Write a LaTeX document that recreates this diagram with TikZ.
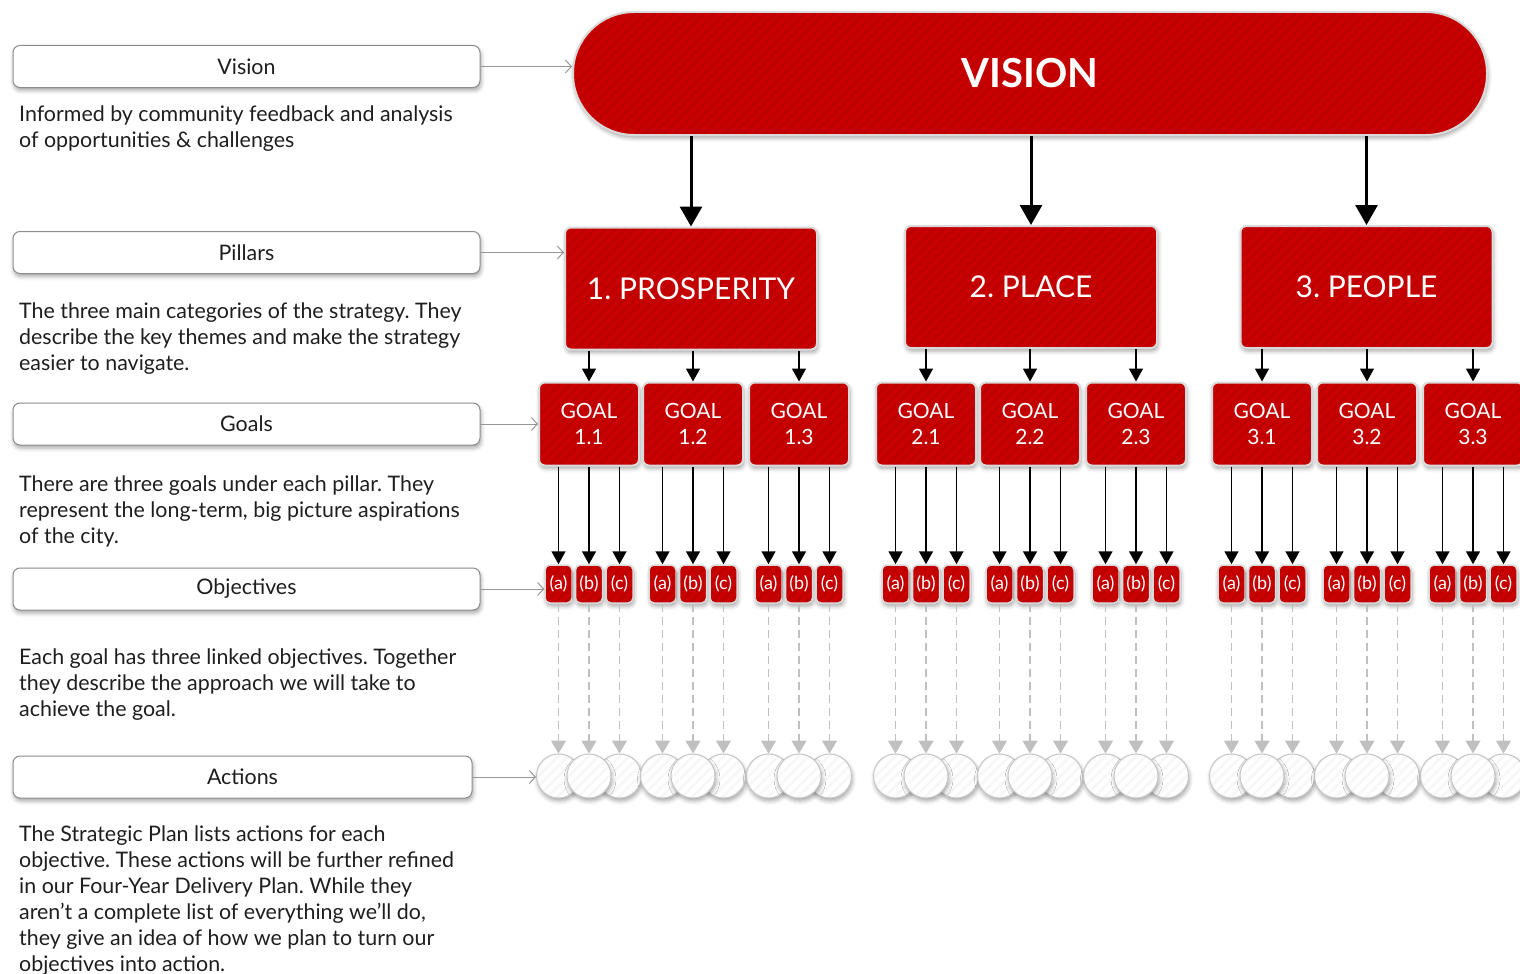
\documentclass[tikz,border=0pt]{standalone}
\usepackage{fontspec}
\setmainfont{Lato}
\usetikzlibrary{arrows.meta,shadows.blur,calc}
\frenchspacing

\definecolor{brandred}{RGB}{200,0,0}
\definecolor{stripered}{RGB}{188,0,0}
\definecolor{rimgray}{RGB}{218,218,218}
\definecolor{dashgray}{RGB}{192,192,192}
\definecolor{linkgray}{RGB}{150,150,150}
\definecolor{framegray}{RGB}{140,140,140}
\definecolor{txtgray}{RGB}{30,30,30}

\newcommand\bodyfont{\fontsize{21.4}{26}\selectfont}

\begin{document}
\begin{tikzpicture}[x=1pt,y=-1pt,
  stripes/.style 2 args={path picture={
    \foreach \k in {-14,...,#2}
      \draw[#1,line width=2.5pt]
        ($(path picture bounding box.south west)+(\k*10pt,0pt)$) -- ++(140pt,140pt);}},
  softshadow/.style={blur shadow={shadow xshift=1pt,shadow yshift=-3pt,
    shadow blur radius=4pt,shadow opacity=35}},
  redbox/.style={draw=rimgray,line width=2pt,fill=brandred,text=white,
    rounded corners=6pt,inner sep=0pt,align=center,softshadow},
  pillarbox/.style={redbox,minimum width=252pt,minimum height=122pt,
    font=\fontsize{30}{36}\selectfont,stripes={stripered}{26}},
  goalbox/.style={redbox,minimum width=100pt,minimum height=83pt,
    font=\fontsize{21}{26}\selectfont,stripes={stripered}{10}},
  objbox/.style={redbox,line width=1.5pt,rounded corners=5pt,
    minimum width=27pt,minimum height=38pt,
    font=\fontsize{18}{20}\selectfont,stripes={stripered}{3}},
  actcircle/.style={circle,draw=gray!45,line width=1pt,fill=white,
    minimum size=44pt,inner sep=0pt,softshadow,stripes={gray!6}{4}},
  labelbox/.style={draw=framegray,line width=1pt,fill=white,rounded corners=7pt,
    minimum height=42pt,inner sep=0pt,text=txtgray,font=\bodyfont,softshadow},
  desc/.style={anchor=north west,inner sep=0pt,align=left,text=txtgray,font=\bodyfont},
  linkarrow/.style={draw=linkgray,line width=1pt,-{Straight Barb[length=6pt,width=13pt]}},
  bigarrow/.style={draw=black,line width=3pt,-{Triangle[length=20pt,width=22pt]}},
  thinarrow/.style={draw=black,line width=1.5pt,-{Triangle[length=13pt,width=14pt]}},
  dasharrow/.style={draw=dashgray,line width=1.5pt,dash pattern=on 8pt off 5pt,
    -{Triangle[length=13pt,width=15pt]}},
]
\useasboundingbox (0,0) rectangle (1520,974);

% ---- left-hand legend ----
\node[labelbox,minimum width=467pt] (lblvision) at (246.5,66.5) {Vision};
\node[labelbox,minimum width=467pt] (lblpillars) at (246.5,252.5) {Pillars};
\node[labelbox,minimum width=467pt] (lblgoals) at (246.5,424) {Goals};
\node[labelbox,minimum width=467pt] (lblobjectives) at (246.5,589) {Objectives};
\node[labelbox,minimum width=459pt] (lblactions) at (242.5,777) {Actions};

\node[desc] (dscvision) at (19,106)
  {Informed by community feedback and analysis\\of opportunities \& challenges};
\node[desc] (dscpillars) at (19,303)
  {The three main categories of the strategy. They\\describe the key themes and make the strategy\\easier to navigate.};
\node[desc] (dscgoals) at (19,476)
  {There are three goals under each pillar. They\\represent the long-term, big picture aspirations\\of the city.};
\node[desc] (dscobjectives) at (19,649)
  {Each goal has three linked objectives. Together\\they describe the approach we will take to\\achieve the goal.};
\node[desc] (dscactions) at (19,826)
  {The Strategic Plan lists actions for each\\objective. These actions will be further refined\\in our Four-Year Delivery Plan. While they\\aren’t a complete list of everything we’ll do,\\they give an idea of how we plan to turn our\\objectives into action.};

% ---- vision and pillars ----
\node[redbox,rounded corners=61pt,minimum width=914pt,minimum height=123pt,
  font=\bfseries\fontsize{40}{48}\selectfont,stripes={stripered}{100}]
  (vision) at (1030,73.5) {VISION};

\node[pillarbox] (pil1) at (691,288.5) {1. PROSPERITY};
\node[pillarbox] (pil2) at (1031,287) {2. PLACE};
\node[pillarbox] (pil3) at (1366.5,287) {3. PEOPLE};

\foreach \p in {1,2,3}
  \draw[bigarrow] (vision.south -| pil\p.north) -- (pil\p.north);

% ---- goals and objectives ----
\foreach \gx/\gl [count=\i] in {589/1.1,693/1.2,799/1.3,926/2.1,1030/2.2,1136/2.3,1262/3.1,1367/3.2,1473/3.3} {
  \node[goalbox] (goal\i) at (\gx,424) {GOAL\\\gl};
  \foreach \dx/\tag in {-30.5/a,0/b,30.5/c}
    \node[objbox] (obj\i\tag) at (\gx+\dx,584) {(\tag)};
}

\foreach \i/\p in {1/1,2/1,3/1,4/2,5/2,6/2,7/3,8/3,9/3}
  \draw[thinarrow] (pil\p.south -| goal\i.north) -- (goal\i.north);

\foreach \i in {1,...,9}
  \foreach \tag in {a,b,c}
    \draw[thinarrow] (goal\i.south -| obj\i\tag.north) -- (obj\i\tag.north);

% ---- actions ----
\foreach \i in {1,...,9}
  \foreach \tag in {a,c,b}
    \node[actcircle] (act\i\tag) at (obj\i\tag |- 0,776) {};

\foreach \i in {1,...,9}
  \foreach \tag in {a,b,c}
    \draw[dasharrow] (obj\i\tag.south) -- (act\i\tag.north);

% ---- legend links ----
\draw[linkarrow] (lblvision.east) -- (lblvision.east -| vision.west);
\draw[linkarrow] (lblpillars.east) -- (lblpillars.east -| pil1.west);
\draw[linkarrow] (lblgoals.east) -- (lblgoals.east -| goal1.west);
\draw[linkarrow] (lblobjectives.east) -- (lblobjectives.east -| obj1a.west);
\draw[linkarrow] (lblactions.east) -- (lblactions.east -| act1a.west);
\end{tikzpicture}
\end{document}
